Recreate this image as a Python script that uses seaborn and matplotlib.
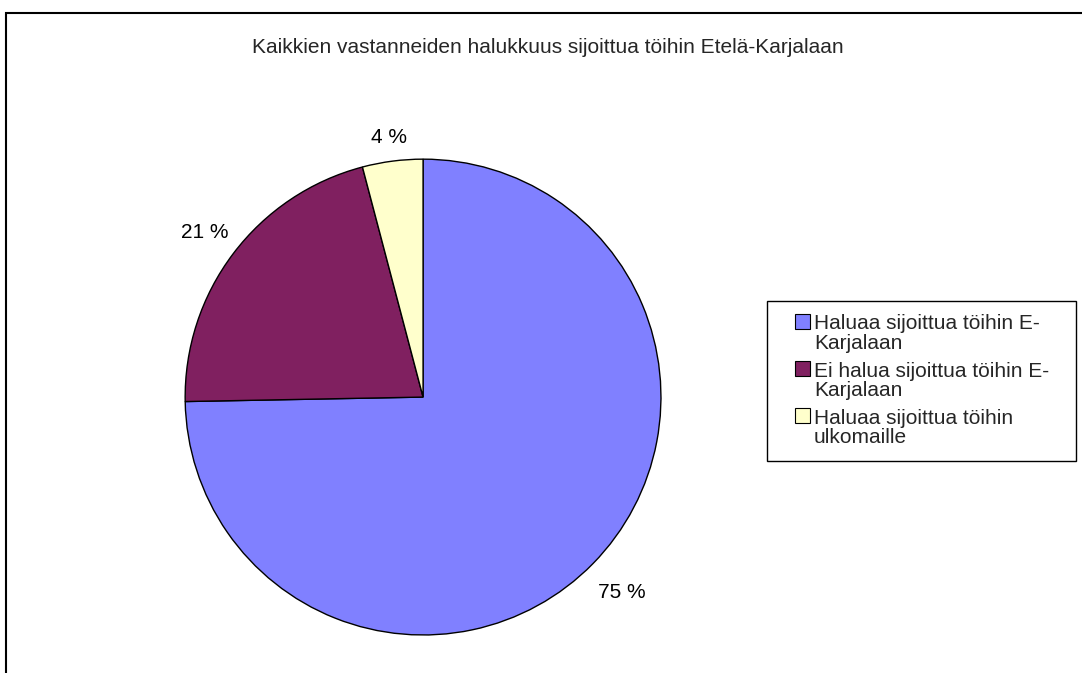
import matplotlib
matplotlib.use("Agg")
import matplotlib.pyplot as plt
import numpy as np
import seaborn as sns
from matplotlib.patches import Rectangle
from matplotlib.legend_handler import HandlerPatch

# Data
labels = ["Haluaa sijoittua töihin E-\nKarjalaan",
          "Ei halua sijoittua töihin E-\nKarjalaan",
          "Haluaa sijoittua töihin\nulkomaille"]
values = [74.7, 21.2, 4.1]
colors = ["#8080FF", "#802060", "#FFFFCC"]
title = "Kaikkien vastanneiden halukkuus sijoittua töihin Etelä-Karjalaan"

# distance of each percentage label from the centre (pie radius = 1)
label_dist = [1.17, 1.15, 1.10]


def top_square(legend, orig_handle, xdescent, ydescent, width, height, fontsize):
    # Excel puts the legend key next to the first text line
    return Rectangle((-xdescent, -ydescent + 0.6 * fontsize), width, height)


def main():
    sns.set_style("white")
    plt.rcParams["font.family"] = ["Liberation Sans", "DejaVu Sans"]

    fig = plt.figure(figsize=(10.82, 6.73), dpi=100)
    ax = fig.add_axes([0.171, 0.0565, 0.440, 0.707])
    pal = sns.color_palette(colors)

    wedges, texts, autotexts = ax.pie(
        values, colors=pal, startangle=90, counterclock=False,
        autopct=lambda p: f"{p:.0f} %", pctdistance=1.14,
        wedgeprops=dict(edgecolor="black", linewidth=1),
        textprops=dict(fontsize=15, color="black"))
    for w, t, d in zip(wedges, autotexts, label_dist):
        ang = np.deg2rad((w.theta1 + w.theta2) / 2)
        t.set_position((d * np.cos(ang), d * np.sin(ang)))
    ax.set_xlim(-1, 1)
    ax.set_ylim(-1, 1)
    ax.set_aspect("equal")
    ax.axis("off")

    fig.text(0.5065, 0.93, title, ha="center", va="center", fontsize=15)

    # legend box drawn separately (wider side padding than matplotlib gives)
    fig.patches.append(Rectangle((767 / 1082, 1 - 461 / 673), 309 / 1082, 160 / 673,
                                 transform=fig.transFigure, facecolor="white",
                                 edgecolor="black", linewidth=1))
    leg = fig.legend(wedges, labels, loc="center",
                     bbox_to_anchor=(0.852, 0.434), fontsize=15,
                     frameon=False,
                     handler_map={w: HandlerPatch(patch_func=top_square) for w in wedges},
                     handlelength=0.72, handleheight=0.72, handletextpad=0.2,
                     labelspacing=0.4, borderpad=0, borderaxespad=0)
    for t in leg.get_texts():
        t.set_linespacing(1.05)
    for h in leg.legend_handles:
        h.set_edgecolor("black")
        h.set_linewidth(0.8)

    # outer chart frame
    fig.patches.append(Rectangle((6 / 1082, -0.1), 1.2, 1 - 13 / 673 + 0.1,
                                 transform=fig.transFigure, fill=False,
                                 edgecolor="black", linewidth=1.5))

    fig.savefig("out.png", dpi=100)
    plt.close()


if __name__ == "__main__":
    main()
